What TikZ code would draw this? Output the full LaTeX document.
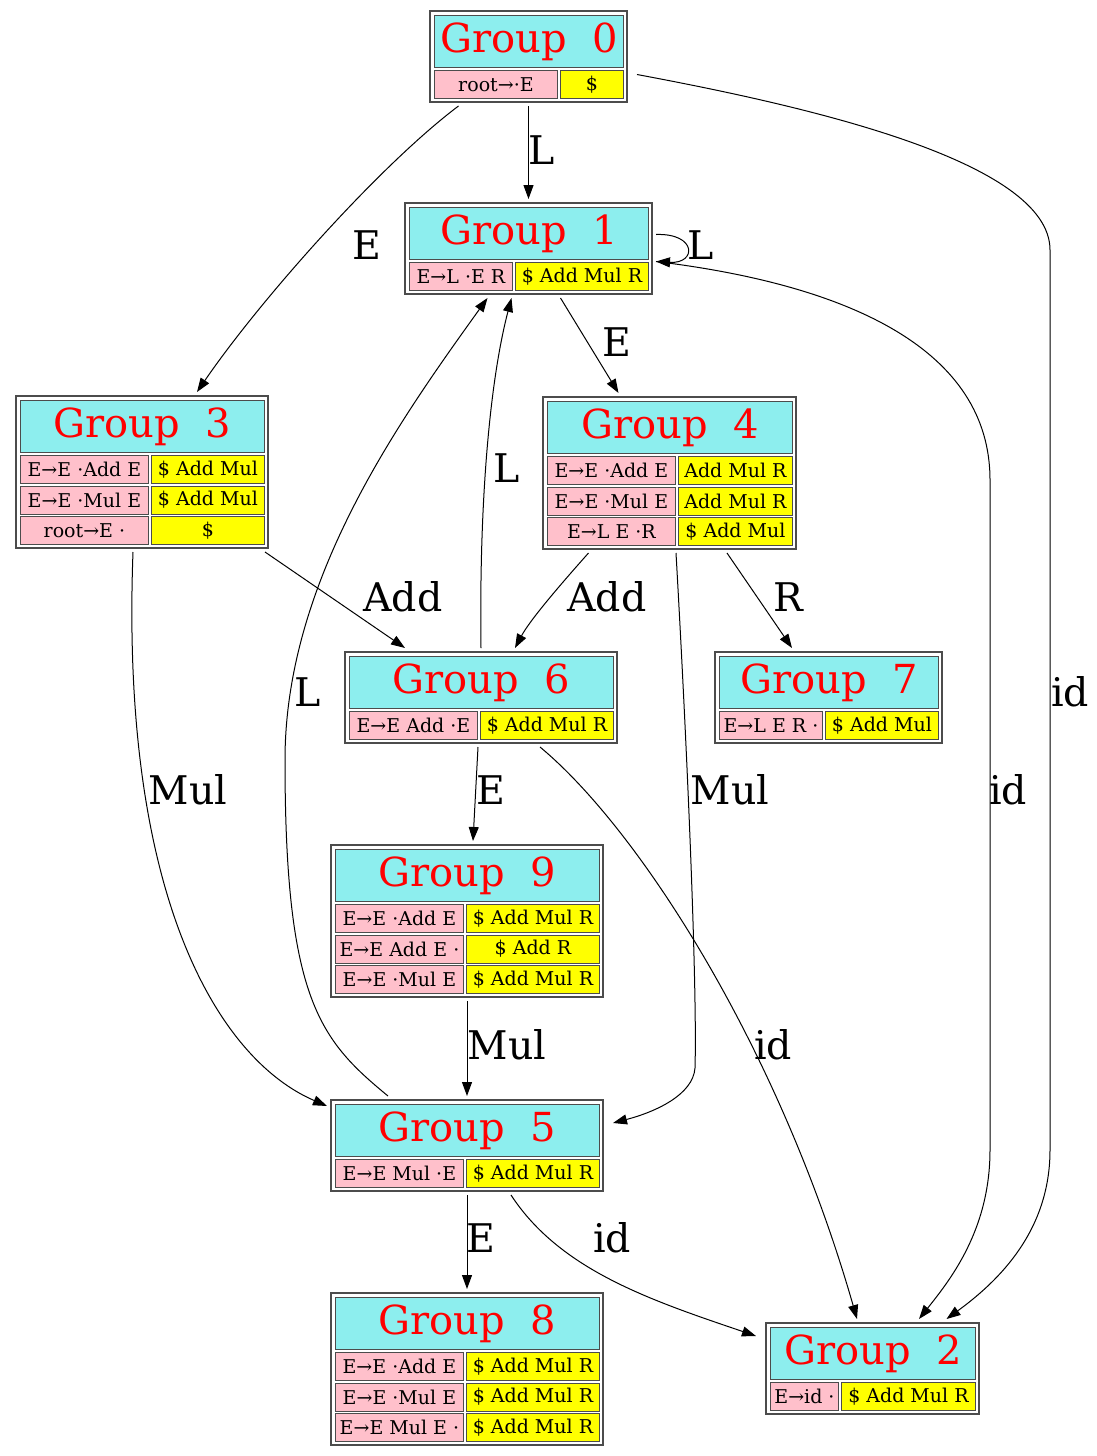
\documentclass[tikz,border=0pt]{standalone}
\usepackage{fontspec}
\setmainfont{DejaVu Serif}
\usetikzlibrary{arrows.meta}

\definecolor{headcyan}{RGB}{141,238,238}
\definecolor{itempink}{RGB}{255,192,203}
\definecolor{lookyellow}{RGB}{255,255,0}

% one LR group: number, x, y (top left), item width, lookahead width, rows, list of item/lookahead
\newcommand{\group}[7]{%
  \pgfmathsetmacro{\grpw}{#4+3+#5}
  \pgfmathsetmacro{\boxw}{#4+11+#5}
  \pgfmathsetmacro{\boxh}{60.5+30.5*#6}
  \node[box, minimum width=\boxw pt, minimum height=\boxh pt] (g#1) at (#2+\boxw/2,#3+\boxh/2) {};
  \node[head, minimum width=\grpw pt, anchor=north west] (g#1h) at (#2+4,#3+4) {Group\ \ #1};
  \foreach \itm/\lk [count=\i from 0] in {#7} {
    \node[item, minimum width=#4pt, anchor=north west] at (#2+4,#3+59+30.5*\i) {\itm};
    \node[look, minimum width=#5pt, anchor=north west] at (#2+7+#4,#3+59+30.5*\i) {\lk};
  }
}

\begin{document}
\begin{tikzpicture}[
        x=1pt, y=-1pt,
        box/.style={rectangle, draw=black!70, line width=1.2pt, fill=white, inner sep=0pt, outer sep=4pt},
        head/.style={rectangle, draw=black!70, line width=0.9pt, fill=headcyan, inner sep=0pt, minimum height=52pt, text=red, font=\fontsize{40}{40}\selectfont},
        item/.style={rectangle, draw=black!70, line width=0.9pt, fill=itempink, inner sep=0pt, minimum height=28pt, font=\fontsize{19}{20}\selectfont},
        look/.style={item, fill=lookyellow},
        edge/.style={-{Triangle[length=14pt,width=10pt]}, line width=1pt},
        lbl/.style={font=\fontsize{39.5}{40}\selectfont, inner sep=0pt}
    ]
        \useasboundingbox (0,0) rectangle (1097,1456);

        % Groups
        \group{0}{430}{11}{123}{63}{1}{root→·E/\$}
        \group{1}{405}{203}{103}{133}{1}{E→L ·E R/\$ Add Mul R}
        \group{3}{16}{396}{128}{113}{3}{E→E ·Add E/\$ Add Mul, E→E ·Mul E/\$ Add Mul, root→E ·/\$}
        \group{4}{543}{397}{128}{114}{3}{E→E ·Add E/Add Mul R, E→E ·Mul E/Add Mul R, E→L E ·R/\$ Add Mul}
        \group{6}{345}{652}{128}{133}{1}{E→E Add ·E/\$ Add Mul R}
        \group{7}{715}{652}{103}{113}{1}{E→L E R ·/\$ Add Mul}
        \group{9}{331}{845}{128}{133}{3}{E→E ·Add E/\$ Add Mul R, E→E Add E ·/\$ Add R, E→E ·Mul E/\$ Add Mul R}
        \group{5}{331}{1100}{128}{133}{1}{E→E Mul ·E/\$ Add Mul R}
        \group{8}{331}{1293}{128}{133}{3}{E→E ·Add E/\$ Add Mul R, E→E ·Mul E/\$ Add Mul R, E→E Mul E ·/\$ Add Mul R}
        \group{2}{766}{1323}{68}{134}{1}{E→id ·/\$ Add Mul R}

        % Transitions
        \draw[edge] (g0.south) -- (g1.north) node[lbl] at (542,150) {L};
        \draw[edge] ([xshift=-70pt]g0.south) .. controls (380,165) and (260,300) .. ([xshift=55pt]g3.north) node[lbl] at (367,245) {E};
        \draw[edge] ([xshift=6pt,yshift=-18pt]g0.east) .. controls (800,105) and (1050,160) .. (1050,250) -- (1050,1150) .. controls (1050,1230) and (1000,1280) .. ([xshift=74pt]g2.north) node[lbl] at (1070,692) {id};
        \draw[edge] ([yshift=14pt]g1.east) .. controls (697,233) and (697,264) .. ([yshift=-13pt]g1.east) node[lbl] at (701,245) {L};
        \draw[edge] ([yshift=-13pt]g1.east) .. controls (850,285) and (990,350) .. (990,480) -- (990,1150) .. controls (990,1230) and (950,1280) .. ([xshift=46.5pt]g2.north) node[lbl] at (1008,790) {id};
        \draw[edge] ([xshift=32pt]g1.south) -- ([xshift=-51pt]g4.north) node[lbl] at (617,342) {E};
        \draw[edge] ([xshift=123pt]g3.south) -- ([xshift=-76pt]g6.north) node[lbl] at (403,597) {Add};
        \draw[edge] ([xshift=-9pt]g3.south) .. controls (120,900) and (220,1060) .. ([yshift=39.5pt]g5.west) node[lbl] at (188,790) {Mul};
        \draw[edge] ([xshift=-81pt]g4.south) .. controls (560,585) and (530,620) .. ([xshift=34pt]g6.north) node[lbl] at (607,597) {Add};
        \draw[edge] ([xshift=57.5pt]g4.south) -- ([xshift=-36.5pt]g7.north) node[lbl] at (788,597) {R};
        \draw[edge] ([xshift=6.5pt]g4.south) .. controls (690,800) and (697,1000) .. (695,1068) .. controls (693,1095) and (655,1112) .. ([xshift=6pt,yshift=22.5pt]g5.east) node[lbl] at (730,790) {Mul};
        \draw[edge] (g6.north) .. controls (479,500) and (490,380) .. ([xshift=-17pt]g1.south) node[lbl] at (507,468) {L};
        \draw[edge] ([xshift=-79pt]g5.north) .. controls (320,1040) and (285,1000) .. (285,760) .. controls (285,580) and (400,420) .. ([xshift=-41pt]g1.south) node[lbl] at (308,692) {L};
        \draw[edge] ([xshift=-3pt]g6.south) -- ([xshift=6pt]g9.north) node[lbl] at (491,790) {E};
        \draw[edge] ([xshift=59pt]g6.south) .. controls (640,830) and (780,1050) .. ([xshift=-15.5pt]g2.north) node[lbl] at (773,1045) {id};
        \draw[edge] (g9.south) -- (g5.north) node[lbl] at (507,1045) {Mul};
        \draw[edge] (g5.south) -- (g8.north) node[lbl] at (481,1238) {E};
        \draw[edge] ([xshift=44pt]g5.south) .. controls (560,1270) and (650,1300) .. ([xshift=-6pt,yshift=32.5pt]g2.west) node[lbl] at (612,1238) {id};

    \end{tikzpicture}
\end{document}
